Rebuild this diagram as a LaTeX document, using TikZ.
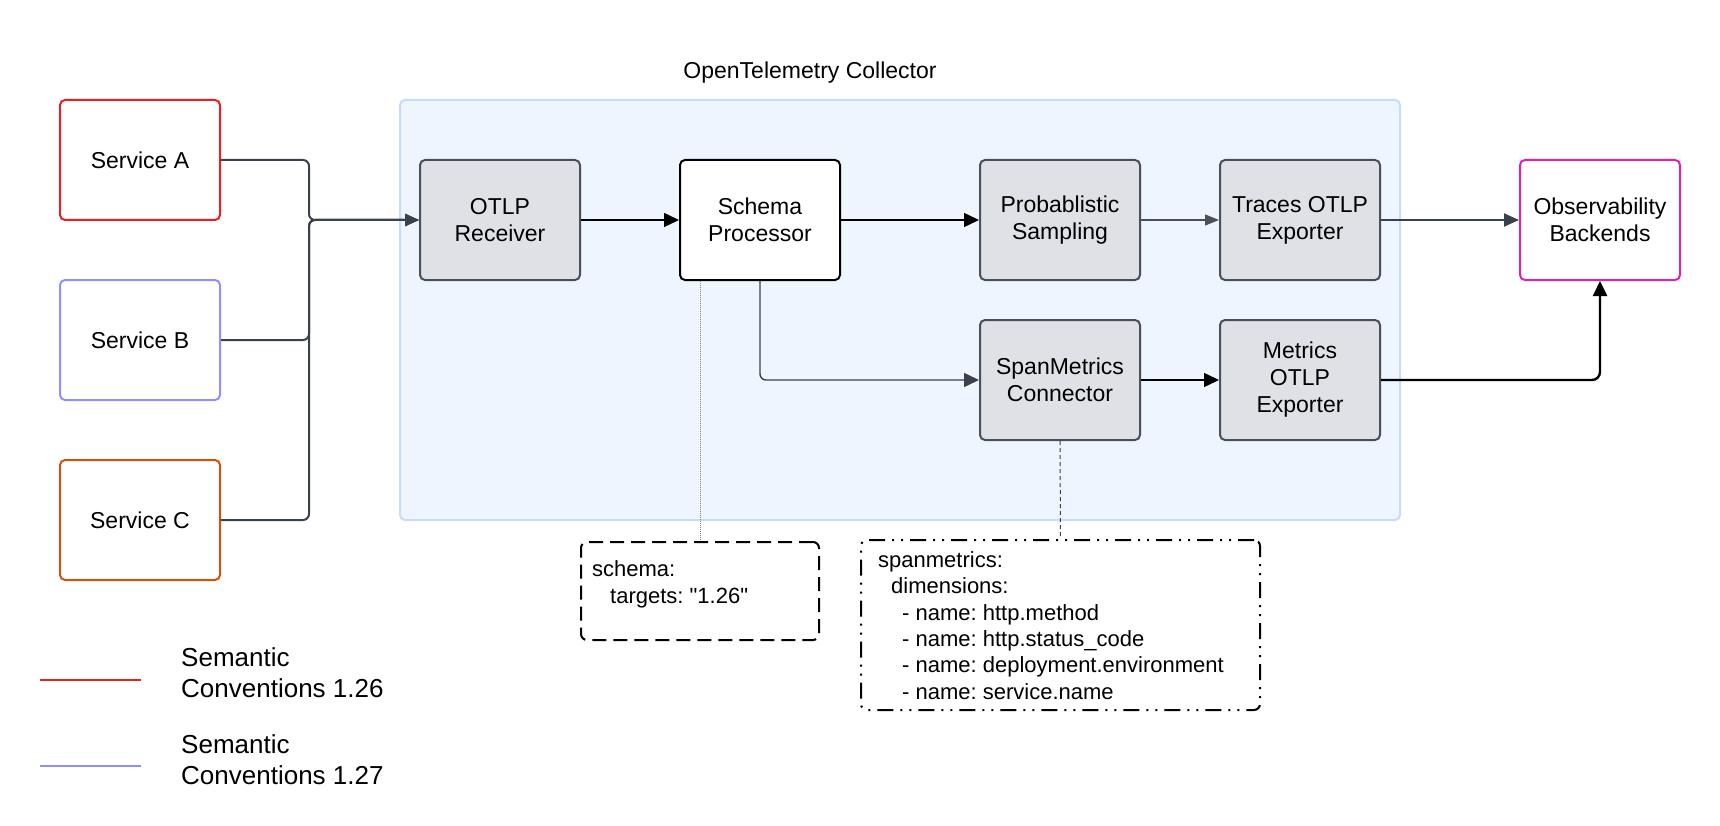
\documentclass[tikz,border=0pt]{standalone}
\usepackage{fontspec}
\setmainfont{Liberation Sans}[Ligatures=TeXOff]
\usetikzlibrary{arrows.meta}
\definecolor{cA}{HTML}{E8201E}
\definecolor{cB}{HTML}{8F8FFF}
\definecolor{cC}{HTML}{D4500F}
\definecolor{cOB}{HTML}{E020B0}
\definecolor{boxfill}{HTML}{DFE1E6}
\definecolor{boxdraw}{HTML}{4A4F58}
\definecolor{colfill}{HTML}{EEF5FF}
\definecolor{coldraw}{HTML}{C8DCF8}
\definecolor{slate}{HTML}{39414C}
\newcommand{\nodefont}{\fontsize{23}{27}\selectfont}
\newcommand{\notefont}{\fontsize{22}{26.3}\selectfont\frenchspacing}
\newcommand{\legfont}{\fontsize{26}{31}\selectfont}
\tikzset{
  basebox/.style={line width=2pt, rounded corners=5pt, minimum width=160pt, minimum height=120pt, align=center, font=\nodefont, inner sep=0pt},
  svcbox/.style={basebox, draw=#1, fill=white},
  greybox/.style={basebox, draw=boxdraw, fill=boxfill},
  whitebox/.style={basebox, draw=black, fill=white},
  container/.style={draw=coldraw, fill=colfill, line width=2pt, rounded corners=5pt, minimum width=1000pt, minimum height=420pt},
  svcline/.style={draw=slate, line width=2pt, rounded corners=6pt, -{Triangle[length=14pt,width=12pt]}},
  blkarrow/.style={draw=black, line width=1.4pt, -{Triangle[length=15pt,width=14pt]}},
  greyarrow/.style={draw=boxdraw, line width=1.2pt, -{Triangle[length=14pt,width=11pt]}},
  slatearrow/.style={draw=slate, line width=2pt, -{Triangle[length=15pt,width=13pt]}},
  notebox/.style={draw=black, line width=2pt, rounded corners=6pt, fill=white, inner sep=0pt},
  notetext/.style={font=\notefont, align=left, inner sep=0pt, anchor=base west},
  legtext/.style={font=\legfont, align=left, inner sep=0pt, anchor=base west},
}
\begin{document}
\begin{tikzpicture}[x=1pt,y=-1pt]
\useasboundingbox (0,0) rectangle (1720,826);
\fill[white] (0,0) rectangle (1720,826);

% container
\node[container] (col) at (900,310) {};
\node[font=\nodefont] (title) at (810,73) {OpenTelemetry Collector};

% services
\node[svcbox=cA] (A) at (140,160) {Service A};
\node[svcbox=cB] (B) at (140,340) {Service B};
\node[svcbox=cC] (C) at (140,520) {Service C};

% pipeline
\node[greybox] (R) at (500,220) {OTLP\\Receiver};
\node[whitebox] (S) at (760,220) {Schema\\Processor};
\node[greybox] (P) at (1060,220) {Probablistic\\Sampling};
\node[greybox] (T) at (1300,220) {Traces OTLP\\Exporter};
\node[greybox] (SM) at (1060,380) {SpanMetrics\\Connector};
\node[greybox] (M) at (1300,380) {Metrics\\OTLP\\Exporter};
\node[basebox, draw=cOB, fill=white] (OB) at (1600,220) {Observability\\Backends};

% notes
\node[notebox, dash pattern=on 14pt off 7pt, minimum width=238pt, minimum height=98pt] (N1) at (700,591) {};
\node[notetext] (N1t) at (592,603) {schema:\\\hspace*{18pt}targets: "1.26"};
\node[notebox, dash pattern=on 16pt off 7pt on 2pt off 7pt on 2pt off 7pt, minimum width=399pt, minimum height=170pt] (N2) at (1060.5,625) {};
\node[notetext] (N2t) at (878,699) {spanmetrics:\\\hspace*{13pt}dimensions:\\\hspace*{24pt}- name: http.method\\\hspace*{24pt}- name: http.status\_code\\\hspace*{24pt}- name: deployment.environment\\\hspace*{24pt}- name: service.name};

% connectors from services
\coordinate (j) at (309,220);
\draw[svcline] (A.east) -- (309,160) -- (j) -- (R.west);
\draw[svcline] (B.east) -- (309,340) -- (j) -- (R.west);
\draw[svcline] (C.east) -- (309,520) -- (j) -- (R.west);

% pipeline connectors
\draw[blkarrow] (R.east) -- (S.west);
\draw[blkarrow] (S.east) -- (P.west);
\draw[greyarrow] (P.east) -- (T.west);
\draw[slatearrow] (T.east) -- (OB.west);
\draw[blkarrow, draw=slate, rounded corners=6pt] (S.south) |- (SM.west);
\draw[blkarrow] (SM.east) -- (M.west);
\draw[black, line width=2.4pt, rounded corners=8pt, -{Triangle[length=15pt,width=14pt]}] (M.east) -| (OB.south);

% note links
\draw[gray, line width=1pt, dash pattern=on 1pt off 1pt] (N1.north |- S.south) -- (N1.north);
\draw[slate, line width=1pt, dash pattern=on 4pt off 3pt] (SM.south) -- (N2.north);

% legend
\coordinate (l1a) at (40,680);
\coordinate (l1b) at (141,680);
\coordinate (l2a) at (40,766);
\coordinate (l2b) at (141,766);
\draw[cA, line width=1.5pt] (l1a) -- (l1b);
\draw[cB, line width=1.5pt] (l2a) -- (l2b);
\node[legtext] (L1) at (181,697) {Semantic\\Conventions 1.26};
\node[legtext] (L2) at (181,784) {Semantic\\Conventions 1.27};
\end{tikzpicture}
\end{document}
